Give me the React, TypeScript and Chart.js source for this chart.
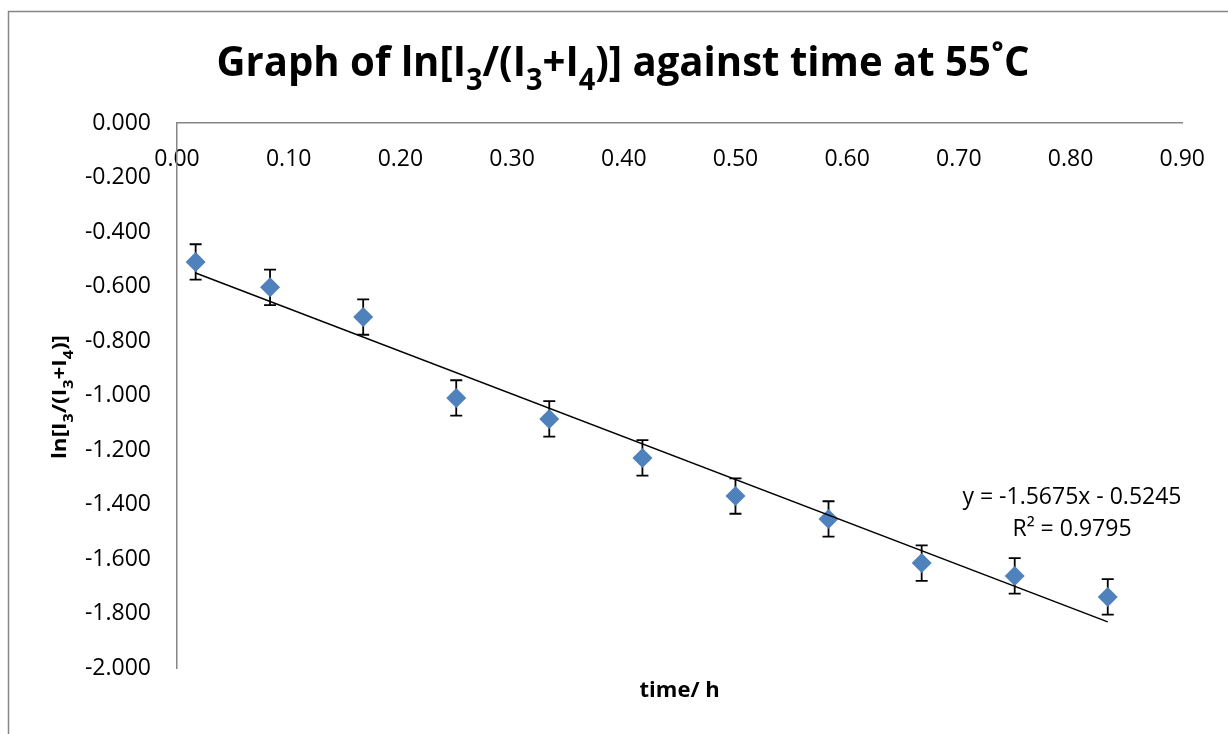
import React, { useEffect, useRef } from "react";
import { Chart, registerables } from "chart.js";

Chart.register(...registerables);

// ---- Data ----
const times = [0.0167, 0.0833, 0.1667, 0.25, 0.3333, 0.4167, 0.5, 0.5833, 0.6667, 0.75, 0.8333];
const lnRatio = [-0.51, -0.603, -0.712, -1.009, -1.086, -1.229, -1.369, -1.453, -1.615, -1.662, -1.739];
const errors = [0.065, 0.065, 0.065, 0.065, 0.065, 0.065, 0.065, 0.065, 0.065, 0.065, 0.065];
const trendSlope = -1.5675;
const trendIntercept = -0.5245;
const rSquared = 0.9795;

const xMin = 0;
const xMax = 0.9;
const xStep = 0.1;
const yMin = -2;
const yMax = 0;
const yStep = 0.2;

type Part = [string, boolean];
const titleParts: Part[] = [
  ["Graph of ln[I", false],
  ["3", true],
  ["/(I", false],
  ["3", true],
  ["+I", false],
  ["4", true],
  [")] against time at 55˚C", false],
];
const yTitleParts: Part[] = [
  ["ln[I", false],
  ["3", true],
  ["/(I", false],
  ["3", true],
  ["+I", false],
  ["4", true],
  [")]", false],
];
const xTitle = "time/ h";

const FONT = "'Open Sans', 'DejaVu Sans', sans-serif";
const MARKER = "#4F81BD";
const AXIS = "#868686";

function drawRich(
  ctx: CanvasRenderingContext2D,
  parts: Part[],
  cx: number,
  baseline: number,
  size: number,
  targetWidth: number | null,
  rotate: boolean
) {
  const subSize = size * 0.72;
  const subDrop = size * 0.33;
  ctx.save();
  ctx.translate(cx, baseline);
  if (rotate) ctx.rotate(-Math.PI / 2);
  const widths = parts.map(([t, sub]) => {
    ctx.font = `bold ${sub ? subSize : size}px ${FONT}`;
    return ctx.measureText(t).width;
  });
  const total = widths.reduce((a, b) => a + b, 0);
  const sx = targetWidth ? targetWidth / total : 1;
  ctx.scale(sx, 1);
  ctx.fillStyle = "#000";
  ctx.textBaseline = "alphabetic";
  ctx.textAlign = "left";
  let x = -total / 2;
  parts.forEach(([t, sub], i) => {
    ctx.font = `bold ${sub ? subSize : size}px ${FONT}`;
    ctx.fillText(t, x, sub ? subDrop : 0);
    x += widths[i];
  });
  ctx.restore();
}

const decorPlugin = {
  id: "decor",
  beforeDraw(chart: any) {
    const ctx = chart.ctx as CanvasRenderingContext2D;
    ctx.save();
    ctx.fillStyle = "#fff";
    ctx.fillRect(0, 0, chart.width, chart.height);
    ctx.strokeStyle = AXIS;
    ctx.lineWidth = 1.5;
    ctx.beginPath();
    ctx.moveTo(8.5, chart.height);
    ctx.lineTo(8.5, 11.5);
    ctx.lineTo(chart.width, 11.5);
    ctx.stroke();
    ctx.restore();
  },
  beforeDatasetsDraw(chart: any) {
    const ctx = chart.ctx as CanvasRenderingContext2D;
    const xs = chart.scales.x;
    const ys = chart.scales.y;
    ctx.save();
    ctx.strokeStyle = "#000";
    ctx.lineWidth = 1.8;
    times.forEach((t, i) => {
      const px = xs.getPixelForValue(t);
      const top = ys.getPixelForValue(lnRatio[i] + errors[i]);
      const bot = ys.getPixelForValue(lnRatio[i] - errors[i]);
      ctx.beginPath();
      ctx.moveTo(px, top);
      ctx.lineTo(px, bot);
      ctx.moveTo(px - 6, top);
      ctx.lineTo(px + 6, top);
      ctx.moveTo(px - 6, bot);
      ctx.lineTo(px + 6, bot);
      ctx.stroke();
    });
    ctx.restore();
  },
  afterDraw(chart: any) {
    const ctx = chart.ctx as CanvasRenderingContext2D;
    const area = chart.chartArea;
    drawRich(ctx, titleParts, 623, 76, 41, 813, false);
    drawRich(ctx, yTitleParts, 66, 397, 20, 124, true);
    ctx.save();
    ctx.fillStyle = "#000";
    ctx.textAlign = "center";
    ctx.textBaseline = "alphabetic";
    ctx.font = `bold 22px ${FONT}`;
    ctx.fillText(xTitle, (area.left + area.right) / 2, 697);
    ctx.font = `23px ${FONT}`;
    const sign = trendIntercept < 0 ? "-" : "+";
    ctx.fillText(
      `y = ${trendSlope.toFixed(4)}x ${sign} ${Math.abs(trendIntercept).toFixed(4)}`,
      1072,
      504
    );
    ctx.fillText(`R² = ${rSquared.toFixed(4)}`, 1072, 536);
    ctx.restore();
  },
};

export default function App() {
  const ref = useRef<HTMLCanvasElement>(null);
  useEffect(() => {
    if (!ref.current) return;
    const tStart = times[0];
    const tEnd = times[times.length - 1];
    const chart = new Chart(ref.current, {
      type: "scatter",
      data: {
        datasets: [
          {
            label: "Trendline",
            data: [
              { x: tStart, y: trendSlope * tStart + trendIntercept },
              { x: tEnd, y: trendSlope * tEnd + trendIntercept },
            ],
            showLine: true,
            borderColor: "#000",
            borderWidth: 1.5,
            pointRadius: 0,
            order: 0,
          },
          {
            label: "ln ratio",
            data: times.map((t, i) => ({ x: t, y: lnRatio[i] })),
            pointStyle: "rectRot",
            pointRadius: 10,
            pointHoverRadius: 10,
            backgroundColor: MARKER,
            borderColor: MARKER,
            borderWidth: 0,
            order: 1,
          },
        ],
      },
      options: {
        animation: false,
        responsive: false,
        events: [],
        layout: { padding: { top: 123, right: 41, bottom: 66, left: 0 } },
        plugins: { legend: { display: false }, tooltip: { enabled: false }, title: { display: false } },
        scales: {
          x: {
            type: "linear",
            position: { y: 0 } as any,
            min: xMin,
            max: xMax,
            ticks: {
              stepSize: xStep,
              callback: (v: any) => Number(v).toFixed(2),
              font: { family: FONT, size: 23 },
              color: "#000",
              padding: 23,
              maxRotation: 0,
              autoSkip: false,
            },
            grid: { display: false, drawTicks: false },
            border: { display: true, color: AXIS, width: 1.5 },
          },
          y: {
            type: "linear",
            position: "left",
            min: yMin,
            max: yMax,
            afterFit: (s: any) => {
              s.width = 177;
            },
            ticks: {
              stepSize: yStep,
              callback: (v: any) => Number(v).toFixed(3),
              font: { family: FONT, size: 23 },
              color: "#000",
              padding: 26,
              autoSkip: false,
            },
            grid: { display: false, drawTicks: false },
            border: { display: true, color: AXIS, width: 1.5 },
          },
        },
      },
      plugins: [decorPlugin],
    });
    return () => chart.destroy();
  }, []);
  return (
    <div style={{ position: "fixed", left: 0, top: 0, width: 1228, height: 734, background: "#fff" }}>
      <canvas ref={ref} width={1228} height={734} style={{ width: 1228, height: 734, display: "block" }} />
    </div>
  );
}
